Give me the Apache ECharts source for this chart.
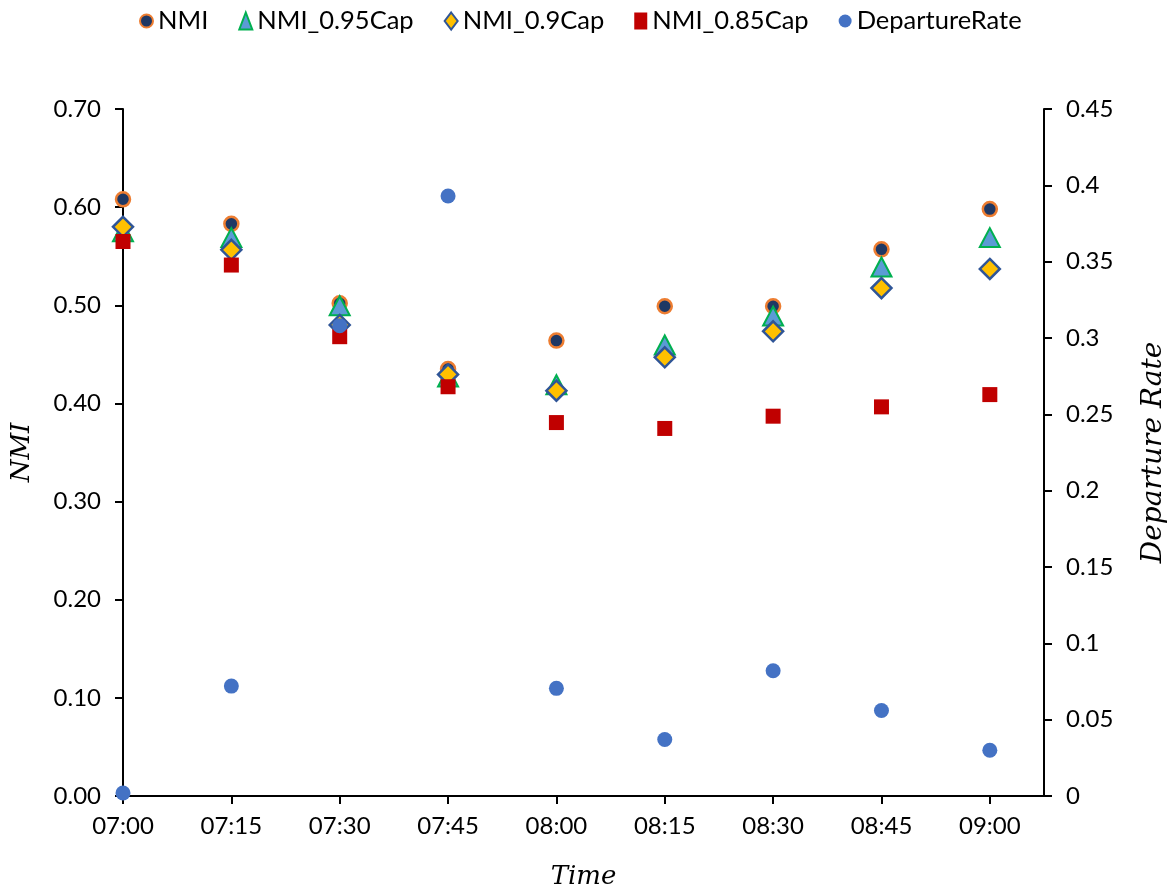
<!DOCTYPE html>
<html>
<head>
<meta charset="utf-8">
<script src="https://cdn.jsdelivr.net/npm/echarts@6/dist/echarts.min.js"></script>
<style>html,body{margin:0;padding:0;background:#fff;}#c{width:1176px;height:895px;}</style>
</head>
<body>
<div id="c"></div>
<script>
var times = ['07:00','07:15','07:30','07:45','08:00','08:15','08:30','08:45','09:00'];
var nmi    = [0.608, 0.583, 0.502, 0.435, 0.464, 0.499, 0.499, 0.557, 0.598];
var cap95  = [0.575, 0.569, 0.4995, 0.427, 0.419, 0.4595, 0.489, 0.539, 0.569];
var cap90  = [0.580, 0.5565, 0.480, 0.4295, 0.413, 0.447, 0.4735, 0.5175, 0.537];
var cap85  = [0.565, 0.541, 0.468, 0.417, 0.3805, 0.3745, 0.387, 0.3965, 0.409];
var depRate = [0.002, 0.072, 0.308, 0.393, 0.0705, 0.037, 0.082, 0.056, 0.030];
var leftTicks = ['0.00','0.10','0.20','0.30','0.40','0.50','0.60','0.70'];

function pts(arr){ return arr.map(function(v,i){ return [i, v]; }); }
var idx = times.map(function(t,i){ return i; });

var chart = echarts.init(document.getElementById('c'), null, {renderer:'canvas'});
var FONT = 'Lato';
var SERIF = 'DejaVu Serif';
chart.setOption({
  animation: false,
  backgroundColor: '#fff',
  legend: {
    top: 3, left: 134,
    itemGap: 30, itemWidth: 13, itemHeight: 17,
    textStyle: {fontFamily: FONT, fontSize: 25.5, color: '#000'},
    data: ['NMI','NMI_0.95Cap','NMI_0.9Cap','NMI_0.85Cap','DepartureRate']
  },
  grid: {left: 123, right: 130, top: 109, bottom: 97, containLabel: false},
  xAxis: {
    type: 'value', min: 0, max: 8.5, interval: 1,
    name: 'Time', nameLocation: 'middle', nameGap: 68,
    nameTextStyle: {fontFamily: SERIF, fontStyle: 'italic', fontSize: 26, color: '#000'},
    axisLine: {show: true, onZero: false, lineStyle: {color: '#000', width: 2}},
    axisTick: {show: true, length: 8, lineStyle: {color: '#000', width: 2}, customValues: idx},
    axisLabel: {fontFamily: FONT, fontSize: 24, color: '#000', margin: 18, customValues: idx,
      formatter: function(v){ var i = Math.round(v); return (Math.abs(v - i) < 1e-6 && times[i]) ? times[i] : ''; }},
    splitLine: {show: false}
  },
  yAxis: [{
    type: 'value', min: 0, max: 0.7, interval: 0.1,
    name: 'NMI', nameLocation: 'middle', nameGap: 88,
    nameTextStyle: {fontFamily: SERIF, fontStyle: 'italic', fontSize: 26, color: '#000'},
    axisLine: {show: true, lineStyle: {color: '#000', width: 2}},
    axisTick: {show: true, length: 8, lineStyle: {color: '#000', width: 2}},
    axisLabel: {fontFamily: FONT, fontSize: 24, color: '#000', margin: 22,
      formatter: function(v){ return leftTicks[Math.round(v*10)]; }},
    splitLine: {show: false}
  },{
    type: 'value', min: 0, max: 0.45, interval: 0.05, position: 'right',
    name: 'Departure Rate', nameLocation: 'middle', nameGap: 96, nameRotate: 90,
    nameTextStyle: {fontFamily: SERIF, fontStyle: 'italic', fontSize: 28, color: '#000'},
    axisLine: {show: true, lineStyle: {color: '#000', width: 2}},
    axisTick: {show: true, length: 8, lineStyle: {color: '#000', width: 2}},
    axisLabel: {fontFamily: FONT, fontSize: 24, color: '#000', margin: 22,
      formatter: function(v){ return String(parseFloat(v.toFixed(2))); }},
    splitLine: {show: false}
  }],
  series: [
    {name: 'NMI', type: 'scatter', data: pts(nmi), symbol: 'circle', symbolSize: 14,
      itemStyle: {color: '#1F3864', borderColor: '#ED7D31', borderWidth: 2.5, opacity: 1}},
    {name: 'NMI_0.95Cap', type: 'scatter', data: pts(cap95), symbol: 'triangle', symbolSize: [20, 19],
      itemStyle: {color: '#5B9BD5', borderColor: '#00B050', borderWidth: 2, opacity: 1}},
    {name: 'NMI_0.9Cap', type: 'scatter', data: pts(cap90), symbol: 'diamond', symbolSize: [20, 20],
      itemStyle: {color: '#FFC000', borderColor: '#2F5597', borderWidth: 2.5, opacity: 1}},
    {name: 'NMI_0.85Cap', type: 'scatter', data: pts(cap85), symbol: 'rect', symbolSize: 15,
      itemStyle: {color: '#C00000', opacity: 1}},
    {name: 'DepartureRate', type: 'scatter', yAxisIndex: 1, data: pts(depRate), symbol: 'circle', symbolSize: 15,
      itemStyle: {color: '#4472C4', opacity: 1}}
  ]
});
</script>
</body>
</html>
